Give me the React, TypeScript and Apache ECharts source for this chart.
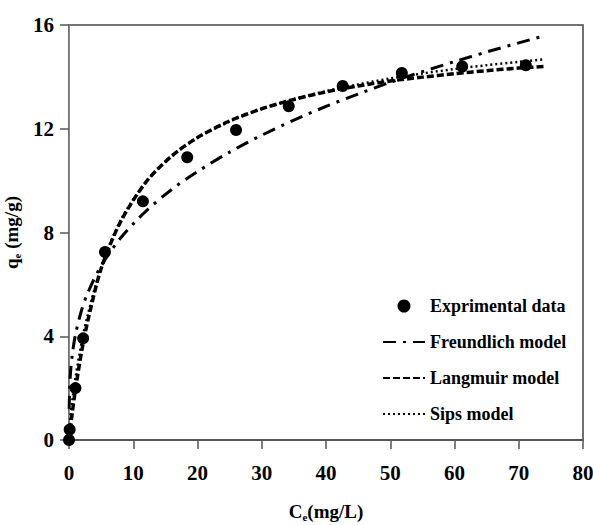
import React, { useEffect, useRef } from "react";
import * as echarts from "echarts";

const expC = [0, 0.1, 1.0, 2.2, 5.6, 11.5, 18.4, 26.0, 34.2, 42.6, 51.8, 61.2, 71.1];
const expQ = [0, 0.4, 2.0, 3.92, 7.25, 9.2, 10.9, 11.95, 12.87, 13.65, 14.15, 14.4, 14.45];

const modelC = [0.02, 0.2, 0.5, 1, 2, 3, 5, 8, 12, 16, 20, 25, 30, 35, 40, 45, 50, 55, 60, 65, 70, 74];
const freundlichQ = [1.2, 2.46, 3.27, 4.06, 5.04, 5.72, 6.71, 7.78, 8.83, 9.66, 10.35, 11.1, 11.75, 12.33, 12.86, 13.34, 13.79, 14.2, 14.59, 14.96, 15.31, 15.58];
const langmuirC = [0, 0.2, 0.5, 1, 2, 3, 5, 8, 12, 16, 20, 25, 30, 35, 40, 45, 50, 55, 60, 65, 70, 74];
const langmuirQ = [0, 0.43, 1.03, 1.94, 3.46, 4.67, 6.6, 8.4, 9.95, 10.95, 11.66, 12.3, 12.77, 13.13, 13.42, 13.65, 13.84, 13.99, 14.12, 14.24, 14.34, 14.4];
const sipsQ = [0, 0.8, 1.5, 2.4, 3.8, 4.9, 6.65, 8.45, 9.95, 10.95, 11.65, 12.28, 12.77, 13.14, 13.45, 13.71, 13.94, 14.13, 14.3, 14.45, 14.58, 14.68];

const xTicks = { min: 0, max: 80, interval: 10 };
const yTicks = { min: 0, max: 16, interval: 4 };

const FONT = "'Liberation Serif', 'Times New Roman', serif";

export default function App() {
  const ref = useRef<HTMLDivElement>(null);
  useEffect(() => {
    if (!ref.current) return;
    const chart = echarts.init(ref.current, undefined, { renderer: "svg" });
    const zip = (xs: number[], ys: number[]) => xs.map((x, i) => [x, ys[i]]);
    const hidden = { opacity: 0 };
    chart.setOption({
      animation: false,
      backgroundColor: "#ffffff",
      textStyle: { fontFamily: FONT },
      grid: {
        left: 69,
        right: 10,
        top: 25,
        bottom: 85,
        outerBoundsMode: "none",
        containLabel: false,
        show: true,
        borderColor: "#444",
        borderWidth: 1.5,
        backgroundColor: "transparent",
      },
      legend: {
        orient: "vertical",
        left: 382,
        top: 297,
        padding: 0,
        itemWidth: 42,
        itemHeight: 13,
        itemGap: 18,
        textStyle: { fontFamily: FONT, fontWeight: "bold", fontSize: 18, color: "#000" },
        data: [
          { name: "Exprimental data", icon: "circle", itemStyle: { color: "#000", opacity: 1 } },
          { name: "Freundlich model", itemStyle: hidden },
          { name: "Langmuir model", itemStyle: hidden },
          { name: "Sips model", itemStyle: hidden },
        ],
      },
      xAxis: {
        type: "value",
        ...xTicks,
        name: "C{sub|e}(mg/L)",
        nameLocation: "middle",
        nameGap: 61,
        nameTextStyle: {
          fontFamily: FONT,
          fontWeight: "bold",
          fontSize: 19,
          color: "#000",
          rich: { sub: { fontSize: 11, fontWeight: "bold", fontFamily: FONT, verticalAlign: "bottom", padding: [10, 0, 0, 0] } },
        },
        axisLine: { show: true, lineStyle: { color: "#555", width: 2 } },
        axisTick: { show: true, inside: false, length: 9, lineStyle: { color: "#555", width: 1.5 } },
        axisLabel: { fontFamily: FONT, fontWeight: "bold", fontSize: 21, color: "#000", margin: 22 },
        splitLine: { show: false },
      },
      yAxis: {
        type: "value",
        ...yTicks,
        name: "q{sub|e} (mg/g)",
        nameLocation: "middle",
        nameGap: 44,
        nameTextStyle: {
          fontFamily: FONT,
          fontWeight: "bold",
          fontSize: 19,
          color: "#000",
          rich: { sub: { fontSize: 11, fontWeight: "bold", fontFamily: FONT, verticalAlign: "bottom", padding: [10, 0, 0, 0] } },
        },
        axisLine: { show: true, lineStyle: { color: "#888", width: 1 } },
        axisTick: { show: true, inside: false, length: 9, lineStyle: { color: "#555", width: 1.5 } },
        axisLabel: { fontFamily: FONT, fontWeight: "bold", fontSize: 21, color: "#000", margin: 15 },
        splitLine: { show: false },
      },
      series: [
        {
          name: "Freundlich model",
          type: "line",
          data: zip(modelC, freundlichQ),
          smooth: 0.3,
          symbol: "none",
          z: 2,
          lineStyle: { color: "#000", width: 3, type: [13, 7, 3, 7] },
          itemStyle: { color: "#000" },
        },
        {
          name: "Langmuir model",
          type: "line",
          data: zip(langmuirC, langmuirQ),
          smooth: 0.3,
          symbol: "none",
          z: 2,
          lineStyle: { color: "#000", width: 3.5, type: [7, 3] },
          itemStyle: { color: "#000" },
        },
        {
          name: "Sips model",
          type: "line",
          data: zip(langmuirC, sipsQ),
          smooth: 0.3,
          symbol: "none",
          z: 2,
          lineStyle: { color: "#000", width: 2.5, type: [2, 3] },
          itemStyle: { color: "#000" },
        },
        {
          name: "Exprimental data",
          type: "scatter",
          data: zip(expC, expQ),
          symbol: "circle",
          symbolSize: 12,
          clip: false,
          z: 3,
          itemStyle: { color: "#000", opacity: 1 },
        },
      ],
    });
    return () => chart.dispose();
  }, []);
  return <div ref={ref} style={{ width: 593, height: 525, position: "absolute", left: 0, top: 0 }} />;
}
